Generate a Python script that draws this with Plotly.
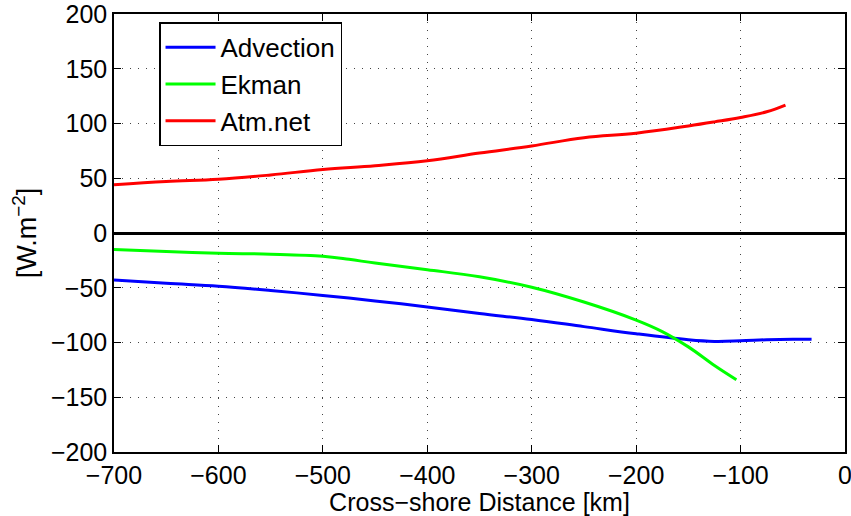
import plotly.graph_objects as go

x_adv = [-700, -650, -600, -550, -500, -450, -400, -350, -300, -250, -200, -150, -125, -100, -75, -50, -32]
y_adv = [-43, -46, -48.6, -52.5, -57, -62, -67.5, -73.5, -79, -85.5, -92, -97.5, -99, -98.5, -97.5, -97, -97]

x_ekm = [-700, -650, -600, -550, -500, -475, -450, -400, -350, -300, -250, -200, -175, -150, -125, -104]
y_ekm = [-15, -17, -18.5, -19.3, -21.2, -24, -27.5, -33.5, -40, -49.5, -63, -79.5, -90, -104, -121, -134]

x_atm = [-700, -650, -600, -550, -500, -450, -400, -350, -300, -250, -200, -150, -125, -100, -75, -57]
y_atm = [44, 47, 49, 53, 58, 61.5, 66, 73, 79.5, 87, 91.2, 97.8, 101.5, 105.5, 110.7, 116.8]

x_ticks = [-700, -600, -500, -400, -300, -200, -100, 0]
y_ticks = [-200, -150, -100, -50, 0, 50, 100, 150, 200]

FONT = "Liberation Sans, Arial, sans-serif"

fig = go.Figure()
fig.add_trace(go.Scatter(x=x_adv, y=y_adv, mode="lines", name="Advection",
                         line=dict(color="#0000ff", width=3, shape="spline", smoothing=1.1)))
fig.add_trace(go.Scatter(x=x_ekm, y=y_ekm, mode="lines", name="Ekman",
                         line=dict(color="#00ff00", width=3, shape="spline", smoothing=1.1)))
fig.add_trace(go.Scatter(x=x_atm, y=y_atm, mode="lines", name="Atm.net",
                         line=dict(color="#ff0000", width=3, shape="spline", smoothing=1.1)))

axis_common = dict(
    showline=True, linecolor="black", linewidth=1.5, mirror="ticks",
    ticks="inside", ticklen=7, tickcolor="black", tickwidth=1,
    showgrid=True, gridcolor="#444444", griddash="1px,7px", gridwidth=1,
    tickfont=dict(family=FONT, size=25, color="black"),
    ticklabeloverflow="allow", automargin=False,
)

fig.update_xaxes(range=[-700, 0], tickvals=x_ticks, zeroline=False,
                 title=dict(text="Cross−shore Distance [km]", font=dict(family=FONT, size=25, color="black"), standoff=2),
                 **axis_common)
fig.update_yaxes(range=[-200, 200], tickvals=y_ticks, zeroline=True,
                 zerolinecolor="black", zerolinewidth=2.5,
                 title=dict(text="[W.m<sup>−2</sup>]", font=dict(family=FONT, size=27, color="black"), standoff=6),
                 **axis_common)

fig.update_layout(
    width=851, height=516,
    margin=dict(l=114, r=6, t=14, b=64),
    plot_bgcolor="white", paper_bgcolor="white",
    font=dict(family=FONT, size=25, color="black"),
    legend=dict(x=0.0616, y=0.981, xanchor="left", yanchor="top",
                bgcolor="white", bordercolor="black", borderwidth=1.5,
                font=dict(family=FONT, size=26, color="black"),
                itemwidth=50, tracegroupgap=0),
    showlegend=True,
)

fig.write_html("out.html")
